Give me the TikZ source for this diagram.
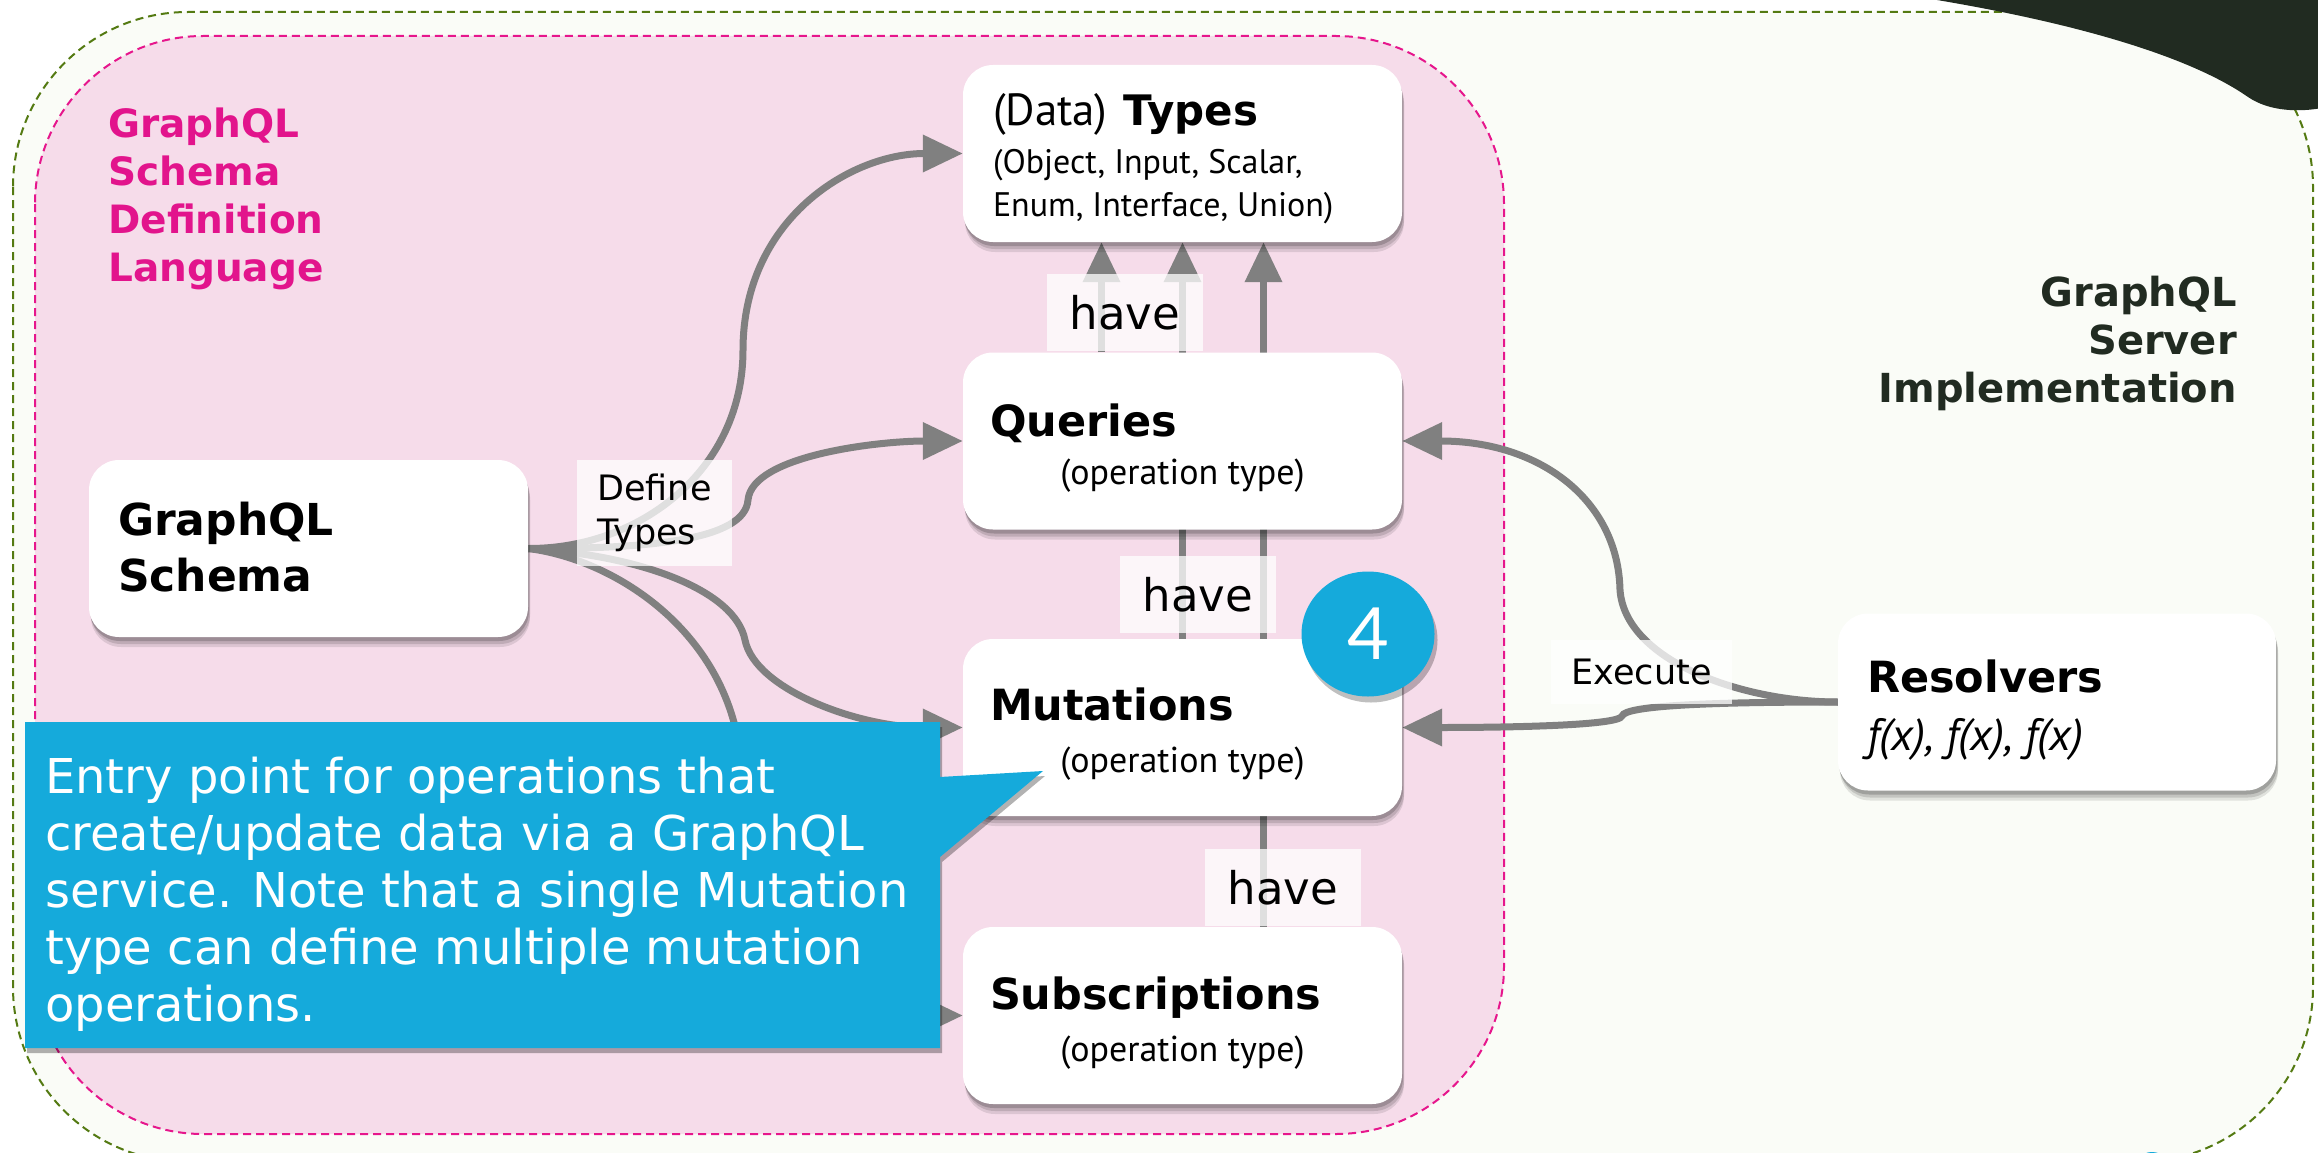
\documentclass[tikz,border=0pt]{standalone}
\usepackage{fontspec}
\setmainfont{DejaVu Sans}
\newfontfamily\humanist{PT Sans}
\newfontfamily\digitfont{Lato}
\usetikzlibrary{calc,shadows,arrows.meta,shapes.geometric}

\definecolor{outerfill}{RGB}{250,252,247}
\definecolor{greenline}{RGB}{84,122,18}
\definecolor{pinkfill}{RGB}{246,220,234}
\definecolor{pinkline}{RGB}{230,22,140}
\definecolor{pinktext}{RGB}{226,20,140}
\definecolor{darkink}{RGB}{33,43,33}
\definecolor{wiregray}{RGB}{128,128,128}
\definecolor{notefill}{RGB}{21,170,219}

\pgfdeclarelayer{regions}
\pgfdeclarelayer{wires}
\pgfdeclarelayer{front}
\pgfsetlayers{regions,wires,main,front}

\tikzset{
  softshadow/.style={
    drop shadow={shadow xshift=2pt, shadow yshift=-10pt, opacity=0.10, fill=black},
    drop shadow={shadow xshift=2pt, shadow yshift=-7pt, opacity=0.13, fill=black},
    drop shadow={shadow xshift=1pt, shadow yshift=-4pt, opacity=0.18, fill=black}},
  card/.style={draw=none, fill=white, rounded corners=30pt, minimum width=439pt,
    minimum height=177pt, inner sep=0pt, softshadow},
  heading/.style={anchor=base west, inner sep=0pt, font=\fontsize{43}{50}\selectfont\bfseries},
  optype/.style={anchor=base, inner sep=0pt, font=\humanist\fontsize{36}{42}\selectfont},
  tag/.style={fill=white, fill opacity=0.75, text opacity=1, inner sep=0pt},
  havetag/.style={tag, minimum width=156pt, minimum height=77pt, font=\fontsize{45}{54}\selectfont},
  wire/.style={draw=wiregray, line width=7pt, -{Triangle[length=40pt,width=36pt]}},
}

\begin{document}
\begin{tikzpicture}[x=1pt,y=-1pt]
\useasboundingbox (0,0) rectangle (2318,1153);

% regions: server implementation and schema definition language
\begin{pgfonlayer}{regions}
  \fill[white] (0,0) rectangle (2318,1153);
  \path[fill=outerfill, draw=greenline, line width=2pt, dash pattern=on 8pt off 5pt,
        rounded corners=175pt] (13,12) rectangle (2313,1162);
  \path[fill=pinkfill, draw=pinkline, line width=2pt, dash pattern=on 8pt off 5pt,
        rounded corners=168pt] (35,36) rectangle (1504,1134);
  \fill[darkink] (1925,-2) .. controls (2090,25) and (2195,60) .. (2248,97)
        .. controls (2270,112) and (2300,112) .. (2322,108) -- (2322,-2) -- cycle;
\end{pgfonlayer}

% region titles
\node[anchor=north west, inner sep=0pt, align=left, text=pinktext,
      font=\fontsize{39}{48}\selectfont\bfseries] (sdl) at (108,108)
      {GraphQL\\Schema\\Definition\\Language};
\node[anchor=north east, inner sep=0pt, align=right, text=darkink,
      font=\fontsize{40}{48}\selectfont\bfseries] (impl) at (2237,276)
      {GraphQL\\Server\\Implementation};

% cards
\node[card] (t) at (1182.5,153.5) {};
\node[card] (q) at (1182.5,441) {};
\node[card] (m) at (1182.5,727.5) {};
\node[card] (s) at (1182.5,1015.5) {};
\node[card] (g) at (308.5,548.5) {};
\node[card, minimum width=438pt] (r) at (2057,702) {};

% card texts
\node[anchor=base west, inner sep=0pt] (t-title) at ([xshift=30pt,yshift=-61pt]t.north west)
  {{\humanist\fontsize{45}{54}\selectfont (Data)}\hspace{16pt}{\fontsize{42}{50}\selectfont\bfseries Types}};
\node[anchor=base west, inner sep=0pt, font=\humanist\fontsize{34}{40}\selectfont] (t-l2)
  at ([xshift=30pt,yshift=-109pt]t.north west) {(Object, Input, Scalar,};
\node[anchor=base west, inner sep=0pt, font=\humanist\fontsize{34}{40}\selectfont] (t-l3)
  at ([xshift=30pt,yshift=-152pt]t.north west) {Enum, Interface, Union)};

\node[heading] (q-title) at ([xshift=27pt,yshift=-84pt]q.north west) {Queries};
\node[optype] (q-sub) at ([yshift=-132pt]q.north) {(operation type)};
\node[heading] (m-title) at ([xshift=27pt,yshift=-82pt]m.north west) {Mutations};
\node[optype] (m-sub) at ([yshift=-134pt]m.north) {(operation type)};
\node[heading] (s-title) at ([xshift=27pt,yshift=-83pt]s.north west) {Subscriptions};
\node[optype] (s-sub) at ([yshift=-135pt]s.north) {(operation type)};

\node[heading, font=\fontsize{44}{52}\selectfont\bfseries] (g-l1)
  at ([xshift=29pt,yshift=-76pt]g.north west) {GraphQL};
\node[heading, font=\fontsize{44}{52}\selectfont\bfseries] (g-l2)
  at ([xshift=29pt,yshift=-132pt]g.north west) {Schema};

\node[heading] (r-title) at ([xshift=29pt,yshift=-79pt]r.north west) {Resolvers};
\node[anchor=base west, inner sep=0pt, font=\humanist\itshape\fontsize{45}{52}\selectfont] (r-sub)
  at ([xshift=29pt,yshift=-137pt]r.north west) {f(x), f(x), f(x)};

% connectors
\begin{pgfonlayer}{wires}
  \draw[wire] ([xshift=-81pt]q.north) -- ([xshift=-81pt]t.south);
  \draw[wire] (m.north) -- (t.south);
  \draw[wire] ([xshift=81pt]s.north) -- ([xshift=81pt]t.south);

  \draw[wire] (g.east) .. controls (640,549) and (743,470) .. (743,350)
              .. controls (743,220) and (850,153.5) .. (t.west);
  \draw[wire] (g.east) .. controls (650,549) and (745,540) .. (748,500)
              .. controls (752,455) and (880,441) .. (q.west);
  \draw[wire] (g.east) .. controls (640,555) and (735,590) .. (745,640)
              .. controls (755,690) and (860,727.5) .. (m.west);
  \draw[wire] (g.east) .. controls (620,560) and (740,640) .. (742,780)
              .. controls (744,950) and (850,1015.5) .. (s.west);

  \draw[wire] (r.west) .. controls (1740,702) and (1625,660) .. (1620,590)
              .. controls (1618,500) and (1540,441) .. (q.east);
  \draw[wire] (r.west) .. controls (1720,702) and (1625,705) .. (1622,716)
              .. controls (1619,726) and (1500,727.5) .. (m.east);
\end{pgfonlayer}

% connector labels
\node[havetag] (have1) at (1125,312.5) {have};
\node[havetag] (have2) at (1198,594.5) {have};
\node[havetag] (have3) at (1283,887.5) {have};
\node[tag, minimum width=155pt, minimum height=106pt, align=left,
      font=\fontsize{35}{44}\selectfont] (define) at (654.5,513) {Define\\Types};
\node[tag, minimum width=181pt, minimum height=64pt,
      font=\fontsize{35}{42}\selectfont] (exec) at (1641.5,672) {Execute};

% step marker
\node[ellipse, fill=notefill, minimum width=133pt, minimum height=125pt, inner sep=0pt,
      drop shadow={shadow xshift=3pt, shadow yshift=-6pt, opacity=0.25, fill=black},
      text=white, font=\digitfont\fontsize{72}{80}\selectfont] (step4) at (1368,634) {4};

\fill[notefill] (2152,1171) circle[radius=19pt];

% explanatory callout
\begin{pgfonlayer}{front}
  \path[fill=notefill, drop shadow={shadow xshift=2pt, shadow yshift=-5pt, opacity=0.3, fill=black}]
    (25,722) -- (940,722) -- (940,777) -- (1043,771) -- (940,857) -- (940,1048)
    -- (25,1048) -- cycle;
  \node[anchor=north west, inner sep=0pt, align=left, text=white,
        font=\fontsize{48}{57}\selectfont] (note) at (45,757)
    {Entry point for operations that\\create/update data via a GraphQL\\service. Note that a single Mutation\\type can define multiple mutation\\operations.};
\end{pgfonlayer}
\end{tikzpicture}
\end{document}
